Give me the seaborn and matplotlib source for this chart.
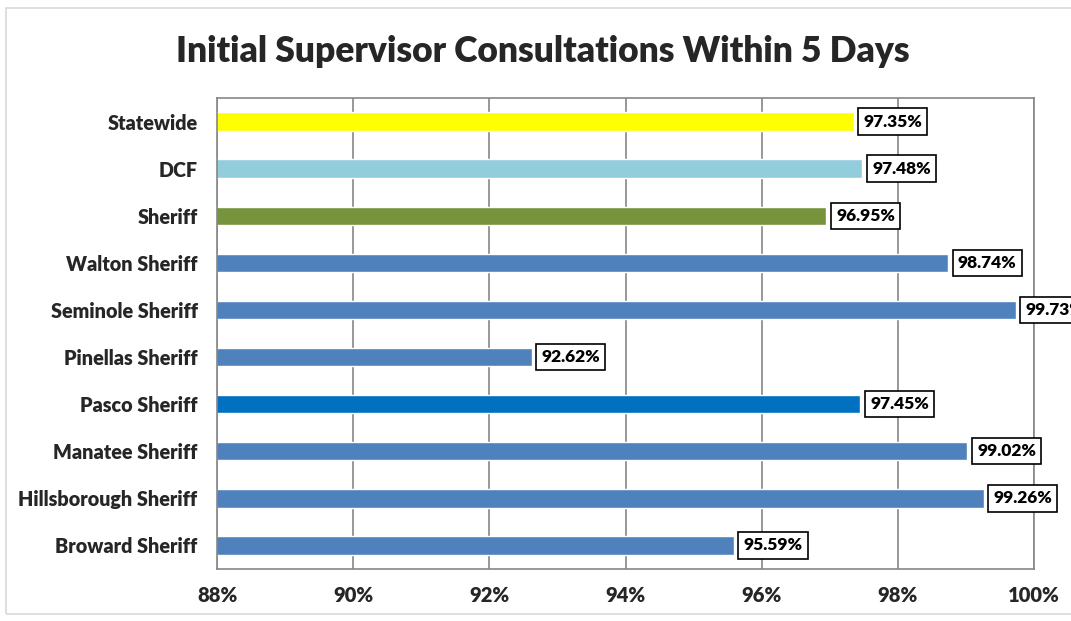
import matplotlib
matplotlib.use("Agg")
import matplotlib.pyplot as plt
import seaborn as sns
import pandas as pd
from matplotlib.patches import Rectangle

categories = ["Statewide", "DCF", "Sheriff", "Walton Sheriff", "Seminole Sheriff",
              "Pinellas Sheriff", "Pasco Sheriff", "Manatee Sheriff",
              "Hillsborough Sheriff", "Broward Sheriff"]
values = [97.35, 97.48, 96.95, 98.74, 99.73, 92.62, 97.45, 99.02, 99.26, 95.59]
colors = ["#FFFF00", "#92CDDC", "#77933C", "#4F81BD", "#4F81BD",
          "#4F81BD", "#0070C0", "#4F81BD", "#4F81BD", "#4F81BD"]
xticks = [88, 90, 92, 94, 96, 98, 100]

sns.set_theme(style="white")
plt.rcParams['font.family'] = ['Lato', 'DejaVu Sans']

df = pd.DataFrame({"cat": categories, "val": values})

fig = plt.figure(figsize=(10.71, 6.21), dpi=100)
fig.patches.append(Rectangle((6/1071, 1-614/621), 1.0, 606/621, transform=fig.transFigure,
                             fill=False, edgecolor="#D9D9D9", linewidth=1.2))
ax = fig.add_axes([217/1071, 1-569/621, 817/1071, 471/621])

sns.barplot(data=df, y="cat", x="val", hue="cat", palette=colors, legend=False,
            orient="h", width=0.39, ax=ax, saturation=1)

ax.set_xlim(88, 100)
ax.set_xticks(xticks)
ax.set_xticklabels([f"{t}%" for t in xticks], fontsize=14.5, fontweight="heavy")
ax.set_ylim(9.5, -0.5)
ax.set_yticks(range(len(categories)))
ax.set_yticklabels(categories, fontsize=14.2, fontweight="heavy")
ax.set_xlabel("")
ax.set_ylabel("")
ax.tick_params(axis="x", length=0, pad=12)
ax.tick_params(axis="y", length=0, pad=14)
ax.grid(axis="x", color="#868686", linewidth=1.2)
ax.grid(axis="y", visible=False)
ax.set_axisbelow(True)
for s in ax.spines.values():
    s.set_color("#868686")
    s.set_linewidth(1.2)

for i, v in enumerate(values):
    ax.annotate(f"{v:.2f}%", xy=(v, i), xytext=(7, 0), textcoords="offset points",
                va="center", ha="left", fontsize=12.5, fontweight="heavy", color="black",
                bbox=dict(boxstyle="square,pad=0.3", facecolor="white",
                          edgecolor="black", linewidth=1.2),
                annotation_clip=False, clip_on=False)

fig.text(0.507, 1-52/621, "Initial Supervisor Consultations Within 5 Days",
         ha="center", va="center", fontsize=25.5, fontweight="heavy")

fig.savefig("out.png", dpi=100)
